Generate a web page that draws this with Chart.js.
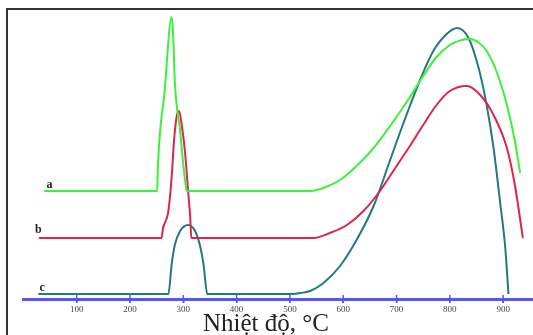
<!DOCTYPE html>
<html>
<head>
<meta charset="utf-8">
<script src="https://cdn.jsdelivr.net/npm/chart.js@4"></script>
<style>
  html, body { margin: 0; padding: 0; background: #fff; }
  #wrap { position: relative; width: 533px; height: 335px; overflow: hidden; }
  #frame { position: absolute; left: 6px; top: 8px; width: 600px; height: 400px;
           border-left: 2px solid #333; border-top: 2px solid #333; }
  #chart { position: absolute; left: 0; top: 0; }
</style>
</head>
<body>
<div id="wrap">
  <div id="frame"></div>
  <canvas id="chart" width="533" height="335"></canvas>
</div>
<script>
// nhiet do (x) va tin hieu (y, don vi tuy y) doc tu hinh
const aX = [39, 251, 252, 265, 278, 281, 284, 294, 300, 305, 307, 538, 563, 594, 625, 657, 688, 719, 750, 775, 800, 820, 838, 855, 869, 888, 907, 922, 932];
const aY = [108, 108, 128, 208, 282, 264, 218, 168, 134, 112, 108, 108, 111, 119, 133, 151, 173, 197, 223, 242, 254, 258.6, 260, 256, 248, 227, 194, 158, 126];

const bX = [29, 259, 262, 269, 272, 278, 283, 288, 292, 297, 303, 309, 313, 315, 544, 575, 607, 638, 669, 700, 725, 750, 775, 800, 832, 857, 882, 907, 922, 937];
const bY = [61, 61, 71, 81, 88, 121, 161, 184, 188, 174, 148, 108, 81, 61, 61, 66, 74, 88, 108, 133, 153, 174, 194, 208, 213, 204, 184, 151, 114, 61];

const cX = [28, 272, 278, 284, 294, 309, 322, 331, 338, 345, 506, 520, 538, 563, 594, 625, 657, 688, 700, 713, 725, 744, 769, 794, 814, 835, 854, 869, 882, 894, 904, 910];
const cY = [5, 5, 34, 54, 68, 74, 68, 54, 34, 5, 5, 6, 8, 16, 33, 59, 93, 139, 157, 176, 193, 219, 248, 265, 271, 261, 231, 194, 151, 98, 51, 5];

const tickValues = [100, 200, 300, 400, 500, 600, 700, 800, 900];
const curveLabels = [
  { text: "a", x: 49, y: 114 },
  { text: "b", x: 28, y: 69 },
  { text: "c", x: 35, y: 11 }
];
const axisTitle = "Nhiệt độ, °C";

function pts(xs, ys) { return xs.map((x, i) => ({ x: x, y: ys[i] })); }

const textPlugin = {
  id: "textPlugin",
  afterDraw(chart) {
    const ctx = chart.ctx, sx = chart.scales.x, sy = chart.scales.y;
    const base = sy.getPixelForValue(0);
    ctx.save();
    // vach chia cat qua truc
    ctx.strokeStyle = "#5555ff";
    ctx.lineWidth = 1.5;
    tickValues.forEach(v => {
      const px = sx.getPixelForValue(v);
      ctx.beginPath();
      ctx.moveTo(px, base - 4);
      ctx.lineTo(px, base + 4);
      ctx.stroke();
    });
    ctx.fillStyle = "#222";
    ctx.textAlign = "center";
    ctx.textBaseline = "middle";
    ctx.font = "bold 12px 'Liberation Serif'";
    curveLabels.forEach(l => ctx.fillText(l.text, sx.getPixelForValue(l.x), sy.getPixelForValue(l.y)));
    ctx.font = "25px 'Liberation Serif'";
    ctx.textBaseline = "alphabetic";
    ctx.fillText(axisTitle, sx.getPixelForValue(455), 331);
    ctx.restore();
  }
};

const ds = (label, xs, ys, color) => ({
  label: label,
  data: pts(xs, ys),
  borderColor: color,
  backgroundColor: "transparent",
  borderWidth: 2,
  pointRadius: 0,
  cubicInterpolationMode: "monotone"
});

new Chart(document.getElementById("chart").getContext("2d"), {
  type: "line",
  data: {
    datasets: [
      ds("a", aX, aY, "#3cf03c"),
      ds("b", bX, bY, "#e0234e"),
      ds("c", cX, cY, "#237a7a")
    ]
  },
  options: {
    responsive: false,
    animation: false,
    layout: { padding: { left: 23.4, right: 0, top: 9, bottom: 0 } },
    plugins: { legend: { display: false }, tooltip: { enabled: false } },
    scales: {
      x: {
        type: "linear",
        min: 0,
        max: 956,
        afterBuildTicks: s => { s.ticks = tickValues.map(v => ({ value: v })); },
        afterFit: s => { s.height = 36; },
        ticks: {
          autoSkip: false,
          maxRotation: 0,
          padding: 1,
          color: "#444",
          font: { family: "'Liberation Serif'", size: 9 }
        },
        grid: { drawOnChartArea: false, color: "#5555ff", lineWidth: 1.5, tickLength: 4 },
        border: { color: "#5555ff", width: 3 }
      },
      y: { display: false, min: 0, max: 290 }
    }
  },
  plugins: [textPlugin]
});
</script>
</body>
</html>
